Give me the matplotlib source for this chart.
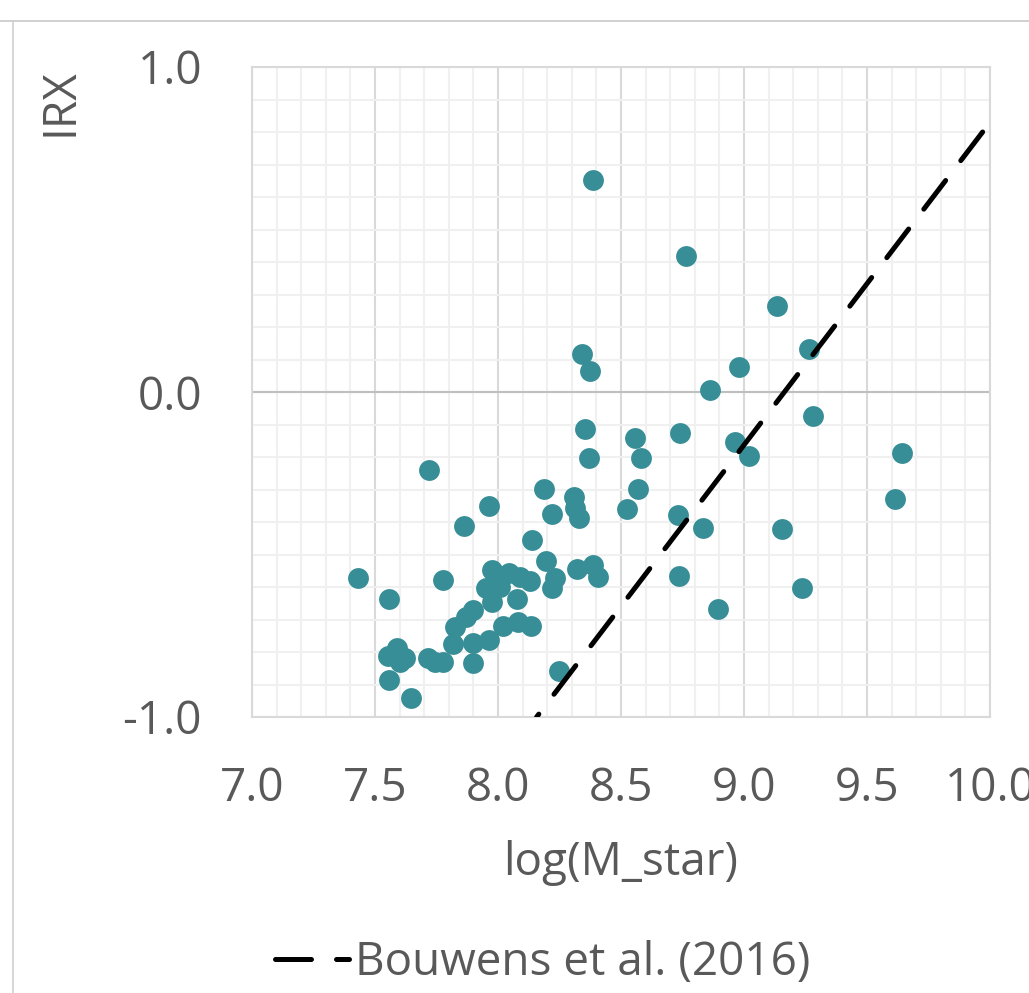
import matplotlib
matplotlib.use("Agg")
import matplotlib.pyplot as plt
from matplotlib.lines import Line2D
from matplotlib.ticker import MultipleLocator

plt.rcParams['font.family'] = ['Open Sans', 'DejaVu Sans']

# ---- data ----
log_mstar = [
    8.387, 8.764, 9.133, 8.340, 8.374, 8.862, 8.981, 9.266, 9.279, 8.355,
    8.558, 8.740, 8.965, 9.022, 9.641, 9.614, 8.371, 8.580, 8.188, 8.571,
    8.308, 8.313, 8.330, 8.221, 8.526, 8.733, 8.833, 9.153, 8.139, 8.195,
    8.322, 8.385, 8.408, 8.232, 8.218, 8.735, 9.234, 8.893, 8.249,
    7.721, 7.963, 7.862, 7.432, 7.775, 7.557, 7.974, 8.046, 8.089, 8.130,
    7.950, 8.008, 8.076, 7.974, 7.900, 7.870, 7.825, 8.022, 8.083, 8.133,
    7.818, 7.900, 7.963, 7.900, 7.717, 7.744, 7.778, 7.554, 7.588, 7.622,
    7.600, 7.557, 7.646,
]
irx = [
    0.652, 0.418, 0.265, 0.116, 0.066, 0.007, 0.077, 0.133, -0.074, -0.115,
    -0.140, -0.127, -0.153, -0.197, -0.189, -0.330, -0.202, -0.204, -0.297, -0.298,
    -0.324, -0.358, -0.389, -0.375, -0.361, -0.378, -0.417, -0.423, -0.455, -0.519,
    -0.546, -0.531, -0.568, -0.573, -0.604, -0.567, -0.604, -0.669, -0.859,
    -0.240, -0.350, -0.411, -0.573, -0.578, -0.637, -0.548, -0.558, -0.568, -0.582,
    -0.604, -0.599, -0.638, -0.645, -0.671, -0.693, -0.724, -0.720, -0.707, -0.720,
    -0.776, -0.773, -0.763, -0.833, -0.817, -0.830, -0.830, -0.812, -0.789, -0.819,
    -0.830, -0.886, -0.943,
]
bouwens_x = [9.970, 8.157]
bouwens_y = [0.800, -1.000]
bouwens_label = 'Bouwens et al. (2016)'

x_ticks = [7.0, 7.5, 8.0, 8.5, 9.0, 9.5, 10.0]
x_tick_labels = ['7.0', '7.5', '8.0', '8.5', '9.0', '9.5', '10.0']
y_ticks = [-1.0, 0.0, 1.0]
y_tick_labels = ['-1.0', '0.0', '1.0']
x_title = 'log(M_star)'
y_title = 'IRX'

# ---- figure ----
W, H = 1029, 993
TXT = '#595959'
fig = plt.figure(figsize=(W / 100, H / 100), dpi=100)
ax = fig.add_axes([252 / W, 1 - 717 / H, 738 / W, 650 / H])
ax.set_xlim(7.0, 10.0)
ax.set_ylim(-1.0, 1.0)

ax.set_xticks(x_ticks)
ax.set_xticklabels(x_tick_labels)
ax.set_yticks(y_ticks)
ax.set_yticklabels(y_tick_labels)
ax.xaxis.set_minor_locator(MultipleLocator(0.1))
ax.yaxis.set_minor_locator(MultipleLocator(0.1))

ax.grid(which='minor', color='#F0F0F0', lw=1.5)
ax.grid(which='major', color='#D9D9D9', lw=1.5)
ax.axhline(0.0, color='#BFBFBF', lw=1.5, zorder=1)
ax.set_axisbelow(True)
for sp in ax.spines.values():
    sp.set_color('#D9D9D9')
    sp.set_linewidth(1.5)

ax.tick_params(which='both', length=0)
ax.tick_params(axis='x', pad=35, labelsize=33, labelcolor=TXT)
ax.tick_params(axis='y', pad=36, labelsize=33, labelcolor=TXT)

ax.scatter(log_mstar, irx, s=225, color='#378E96', linewidths=0, zorder=3)
line, = ax.plot(bouwens_x, bouwens_y, color='black', lw=3.6,
                dashes=(7.2, 5.0), dash_capstyle='round',
                label=bouwens_label, zorder=4)

fig.text(621 / W, 1 - 875 / H, x_title, ha='center', va='baseline',
         fontsize=33, color=TXT)
fig.text(60.5 / W, 1 - 102 / H, y_title, ha='center', va='center',
         rotation=90, fontsize=33, color=TXT)

fig.legend(handles=[line], loc='center', bbox_to_anchor=(543 / W, 1 - 963 / H),
           frameon=False, fontsize=33, handlelength=1.6, handletextpad=0.15,
           labelcolor=TXT, borderpad=0, borderaxespad=0)

# chart-frame border lines (cropped chart area)
fig.add_artist(Line2D([0, 1], [1 - 20.5 / H] * 2, transform=fig.transFigure,
                      color='#C8C8C8', lw=1.2))
fig.add_artist(Line2D([13 / W, 13 / W], [0, 1 - 20.5 / H], transform=fig.transFigure,
                      color='#D0D0D0', lw=1.2))

fig.savefig('out.png', dpi=100)
